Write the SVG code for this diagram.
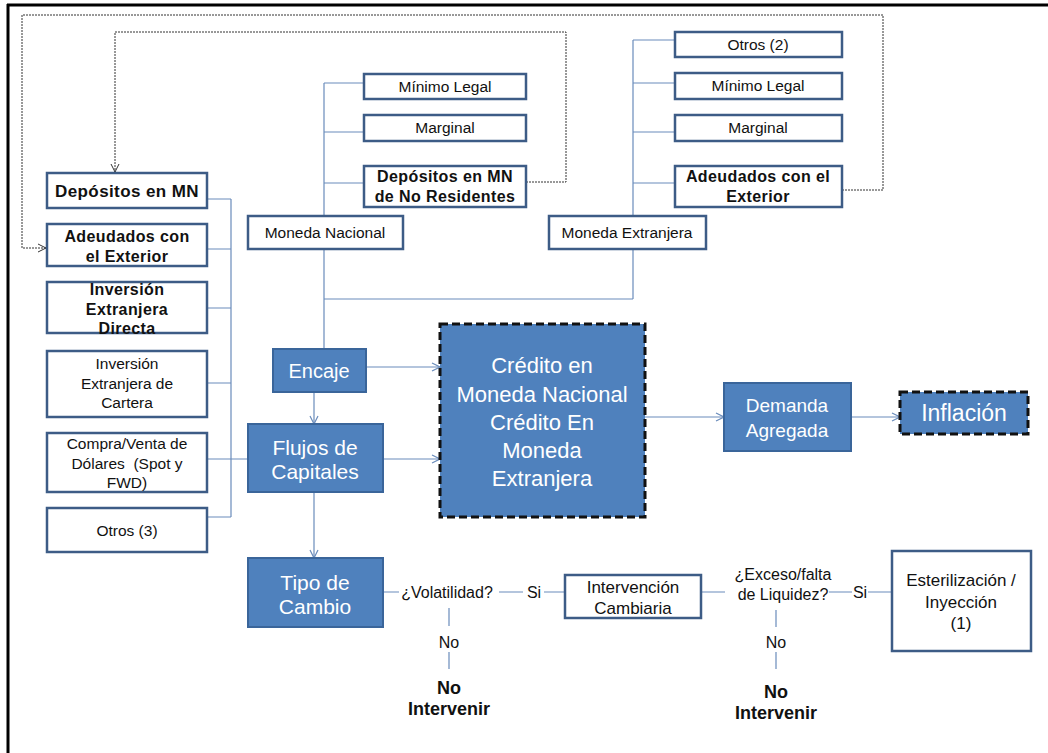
<svg xmlns="http://www.w3.org/2000/svg" width="1048" height="753" viewBox="0 0 1048 753">
<defs>
<marker id="arr" markerWidth="10" markerHeight="10" refX="9" refY="5" orient="auto" markerUnits="userSpaceOnUse">
<path d="M1,1 L9,5 L1,9" fill="none" stroke="#6A8CBB" stroke-width="1.2"/>
</marker>
<marker id="darr" markerWidth="10" markerHeight="10" refX="9" refY="5" orient="auto" markerUnits="userSpaceOnUse">
<path d="M1,1 L9,5 L1,9" fill="none" stroke="#333" stroke-width="1"/>
</marker>
</defs>
<style>
.wb{fill:#fff;stroke:#3D5C86;stroke-width:2.5}
.bb{fill:#4F81BD;stroke:#3A659A;stroke-width:2}
.t{font-family:"Liberation Sans",Arial,sans-serif;font-size:15.5px;fill:#111;text-anchor:middle}
.tb{font-family:"Liberation Sans",Arial,sans-serif;font-size:16px;font-weight:bold;fill:#111;text-anchor:middle;letter-spacing:0.4px}
.tw{font-family:"Liberation Sans",Arial,sans-serif;fill:#fff;text-anchor:middle}
.n{font-family:"Liberation Sans",Arial,sans-serif;font-size:16px;fill:#111;text-anchor:middle}
.nb{font-family:"Liberation Sans",Arial,sans-serif;font-size:18px;font-weight:bold;fill:#111;text-anchor:middle}
.c{fill:none;stroke:#6A8CBB;stroke-width:1.2}
.ca{fill:none;stroke:#6A8CBB;stroke-width:1.2;marker-end:url(#arr)}
.d{fill:none;stroke:#333;stroke-width:1;stroke-dasharray:2 1}
.dash{stroke:#111;stroke-width:3;stroke-dasharray:8 4}
</style>
<rect width="1048" height="753" fill="#fff"/>
<g id="frame">
<line x1="8" y1="4" x2="8" y2="753" stroke="#000" stroke-width="3"/>
<line x1="7" y1="5" x2="1048" y2="5" stroke="#000" stroke-width="3"/>
</g>
<g id="connectors">
<path class="d" d="M526,182 H566 V32 H115 V172" marker-end="url(#darr)"/>
<path class="d" d="M842,190 H883 V15 H22 V248 H46" marker-end="url(#darr)"/>
<path class="c" d="M231,199 V517 M207,199 H231 M207,249 H231 M207,308 H231 M207,383 H231 M207,459 H248 M207,517 H231"/>
<path class="c" d="M324,83 V216 M324,83 H364 M324,132 H364 M324,183 H364 M324,249 V349 M324,299 H633"/>
<path class="c" d="M633,40 V216 M633,40 H675 M633,83 H675 M633,132 H675 M633,183 H675 M633,249 V299"/>
<line class="ca" x1="366" y1="367" x2="440" y2="367"/>
<line class="ca" x1="383" y1="459" x2="440" y2="459"/>
<line class="ca" x1="314" y1="392" x2="314" y2="424"/>
<line class="ca" x1="314" y1="492" x2="314" y2="558"/>
<line class="ca" x1="645" y1="417" x2="724" y2="417"/>
<line class="ca" x1="851" y1="417" x2="900" y2="417"/>
<path class="c" d="M383,592 H399 M499,592 H523 M544,592 H565 M449,608 V626 M449,652 V669"/>
<path class="c" d="M701,592 H725 M829,592 H852 M868,592 H892 M776,610 V627 M776,652 V669"/>
</g>
<g id="n-depmn"><rect class="wb" x="47" y="173" width="160" height="35"/><text class="tb" x="127" y="197" style="font-size:17px">Depósitos en MN</text></g>
<g id="n-adeud-l"><rect class="wb" x="47" y="224" width="160" height="42"/><text class="tb" x="127" y="242">Adeudados con</text><text class="tb" x="127" y="262">el Exterior</text></g>
<g id="n-ied"><rect class="wb" x="47" y="282" width="160" height="51"/><text class="tb" x="127" y="295">Inversión</text><text class="tb" x="127" y="315">Extranjera</text><text class="tb" x="127" y="334">Directa</text></g>
<g id="n-iec"><rect class="wb" x="47" y="351" width="160" height="66"/><text class="t" x="127" y="369">Inversión</text><text class="t" x="127" y="389">Extranjera de</text><text class="t" x="127" y="408">Cartera</text></g>
<g id="n-compra"><rect class="wb" x="47" y="433" width="160" height="59"/><text class="t" x="127" y="449">Compra/Venta de</text><text class="t" x="127" y="469" style="white-space:pre">Dólares  (Spot y</text><text class="t" x="127" y="488">FWD)</text></g>
<g id="n-otros3"><rect class="wb" x="47" y="508" width="160" height="44"/><text class="t" x="127" y="536">Otros (3)</text></g>
<g id="n-mn"><rect class="wb" x="248" y="216" width="155" height="33"/><text class="t" x="325" y="238">Moneda Nacional</text></g>
<g id="n-minl-mn"><rect class="wb" x="364" y="74" width="162" height="25"/><text class="t" x="445" y="92">Mínimo Legal</text></g>
<g id="n-marg-mn"><rect class="wb" x="364" y="115" width="162" height="26"/><text class="t" x="445" y="133">Marginal</text></g>
<g id="n-depnr"><rect class="wb" x="364" y="166" width="162" height="41"/><text class="tb" x="445" y="182">Depósitos en MN</text><text class="tb" x="445" y="202">de No Residentes</text></g>
<g id="n-me"><rect class="wb" x="549" y="216" width="157" height="33"/><text class="t" x="627" y="238">Moneda Extranjera</text></g>
<g id="n-otros2"><rect class="wb" x="675" y="32" width="167" height="25"/><text class="t" x="758" y="50">Otros (2)</text></g>
<g id="n-minl-me"><rect class="wb" x="675" y="73" width="167" height="26"/><text class="t" x="758" y="91">Mínimo Legal</text></g>
<g id="n-marg-me"><rect class="wb" x="675" y="115" width="167" height="26"/><text class="t" x="758" y="133">Marginal</text></g>
<g id="n-adeud-r"><rect class="wb" x="675" y="166" width="167" height="41"/><text class="tb" x="758" y="182">Adeudados con el</text><text class="tb" x="758" y="202">Exterior</text></g>
<g id="n-encaje"><rect class="bb" x="273" y="349" width="93" height="43"/><text class="tw" x="319" y="378" font-size="20">Encaje</text></g>
<g id="n-flujos"><rect class="bb" x="248" y="424" width="135" height="68"/><text class="tw" x="315" y="455" font-size="21">Flujos de</text><text class="tw" x="315" y="479" font-size="21">Capitales</text></g>
<g id="n-tipo"><rect class="bb" x="248" y="558" width="135" height="69"/><text class="tw" x="315" y="590" font-size="21">Tipo de</text><text class="tw" x="315" y="614" font-size="21">Cambio</text></g>
<g id="n-credito"><rect class="bb dash" x="440" y="324" width="205" height="193"/>
<text class="tw" font-size="22" x="542" y="373">Crédito en</text><text class="tw" font-size="22" x="542" y="402">Moneda Nacional</text><text class="tw" font-size="22" x="542" y="430">Crédito En</text><text class="tw" font-size="22" x="542" y="458">Moneda</text><text class="tw" font-size="22" x="542" y="486">Extranjera</text></g>
<g id="n-demanda"><rect class="bb" x="724" y="383" width="127" height="68"/><text class="tw" font-size="19" x="787" y="412">Demanda</text><text class="tw" font-size="19" x="787" y="437">Agregada</text></g>
<g id="n-inflacion"><rect class="bb dash" x="900" y="392" width="128" height="42"/><text class="tw" font-size="23" x="964" y="421">Inflación</text></g>
<g id="n-volat"><text class="n" x="447" y="598">¿Volatilidad?</text><text class="n" x="534" y="598">Si</text><text class="n" x="449" y="648">No</text><text class="nb" x="449" y="694">No</text><text class="nb" x="449" y="715">Intervenir</text></g>
<g id="n-interv"><rect class="wb" x="565" y="575" width="136" height="43"/><text class="t" x="633" y="593" style="font-size:17px">Intervención</text><text class="t" x="633" y="614" style="font-size:17px">Cambiaria</text></g>
<g id="n-exceso"><text class="n" x="783" y="580">¿Exceso/falta</text><text class="n" x="783" y="600">de Liquidez?</text><text class="n" x="860" y="598">Si</text><text class="n" x="776" y="648">No</text><text class="nb" x="776" y="698">No</text><text class="nb" x="776" y="719">Intervenir</text></g>
<g id="n-ester"><rect class="wb" x="892" y="551" width="139" height="100"/><text class="t" x="961" y="586" style="font-size:17px">Esterilización /</text><text class="t" x="961" y="608" style="font-size:17px">Inyección</text><text class="t" x="961" y="629" style="font-size:17px">(1)</text></g>
</svg>
